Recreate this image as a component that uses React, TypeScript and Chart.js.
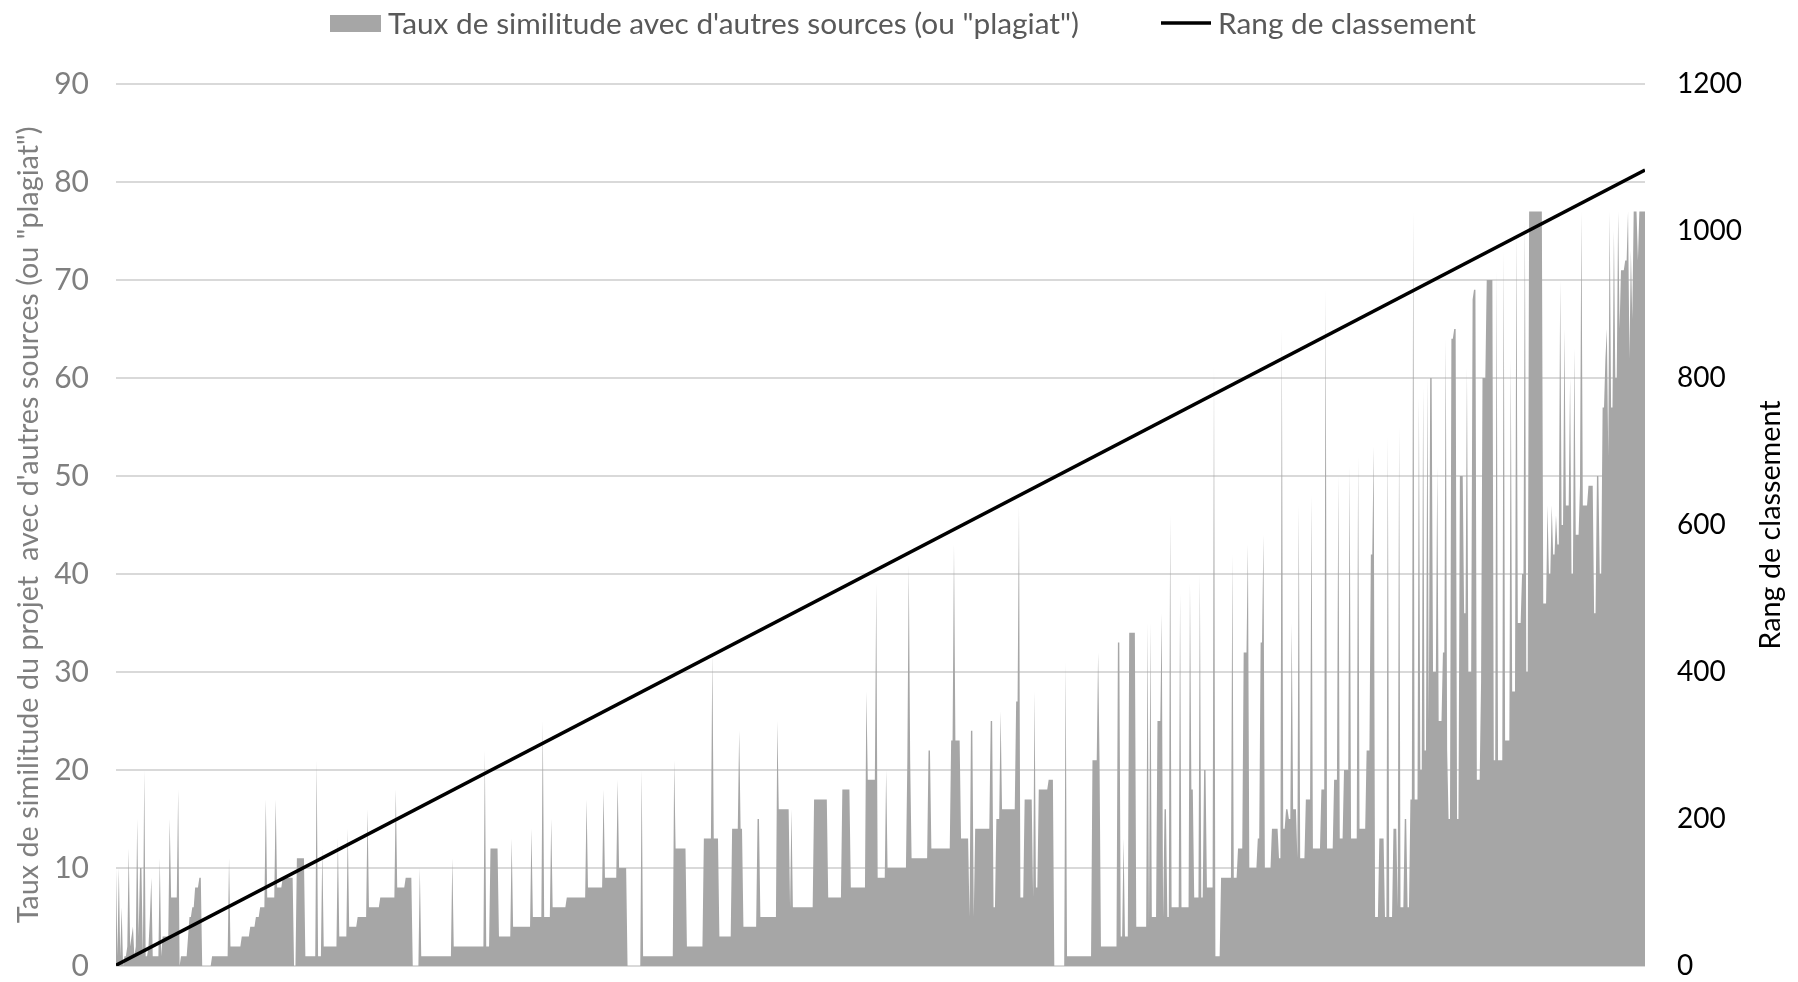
import { useEffect, useRef } from "react";
import { Chart, registerables } from "chart.js";

Chart.register(...registerables);

const SERIES_LABEL = `Taux de similitude avec d'autres sources (ou "plagiat")`;
const RANK_LABEL = "Rang de classement";
const LEFT_TITLE = `Taux de similitude du projet  avec d'autres sources (ou "plagiat")`;
const RIGHT_TITLE = "Rang de classement";
const LEFT_TICKS = [0, 10, 20, 30, 40, 50, 60, 70, 80, 90];
const RIGHT_TICKS = [0, 200, 400, 600, 800, 1000, 1200];

// Similarity rate, in rank order, as [value, number of consecutive ranks]
const RUNS_RANKS_1_362 = [
  [10, 1], [1, 1], [10, 1], [1, 1], [6, 1], [0, 1], [1, 2], [2, 1], [12, 1], [2, 1], [3, 1], [4, 1],
  [1, 1], [2, 1], [15, 1], [3, 1], [10, 2], [1, 1], [20, 1], [1, 2], [2, 1], [5, 1], [9, 1], [1, 5],
  [11, 1], [1, 1], [3, 5], [15, 1], [7, 5], [18, 1], [0, 1], [1, 5], [3, 1], [5, 2], [6, 2], [8, 3],
  [9, 2], [0, 7], [1, 12], [11, 1], [2, 8], [3, 6], [4, 4], [5, 3], [6, 4], [17, 1], [7, 6], [17, 1],
  [8, 4], [9, 8], [0, 2], [11, 6], [1, 8], [21, 1], [1, 3], [12, 1], [2, 10], [13, 1], [3, 6], [14, 1],
  [4, 6], [5, 7], [16, 1], [6, 8], [7, 11], [18, 1], [8, 6], [9, 5], [0, 5], [10, 1], [1, 22], [11, 1],
  [2, 22], [22, 1], [2, 3], [12, 6], [3, 9], [13, 1], [4, 13], [14, 1], [5, 7], [25, 1], [5, 5], [15, 1],
  [6, 10], [7, 14], [17, 1], [8, 11], [18, 1], [9, 9], [19, 1], [10, 6],
];
const RUNS_RANKS_363_591 = [
  [0, 10], [20, 1], [1, 22], [21, 1], [12, 8], [2, 12], [13, 6], [32, 1], [13, 4], [3, 9], [14, 5],
  [24, 1], [14, 2], [4, 10], [15, 2], [5, 12], [25, 1], [16, 8], [6, 1], [16, 1], [6, 15], [17, 10],
  [7, 10], [18, 6], [8, 11], [28, 1], [19, 6], [39, 1], [9, 6], [20, 1], [10, 14], [21, 1], [41, 1],
  [21, 1], [11, 12], [22, 2], [12, 14],
];
const RUNS_RANKS_592_711 = [
  [23, 2], [43, 1], [23, 4], [13, 6], [5, 1], [24, 2], [5, 1], [14, 11], [25, 2], [6, 2], [15, 3],
  [26, 1], [16, 10], [27, 2], [47, 1], [7, 3], [17, 6], [7, 1], [28, 1], [8, 2], [18, 7], [19, 4],
  [0, 8], [31, 1], [1, 18], [21, 4], [32, 1], [21, 1], [2, 12], [33, 2],
];
const RUNS_RANKS_712_830 = [
  [3, 2], [13, 1], [3, 3], [34, 5], [4, 8], [35, 1], [4, 1], [35, 1], [5, 4], [25, 3], [36, 1], [5, 1],
  [16, 2], [5, 2], [46, 1], [6, 6], [38, 1], [6, 6], [39, 1], [18, 2], [7, 4], [40, 1], [7, 2], [20, 2],
  [8, 5], [61, 1], [1, 4], [9, 8], [42, 1], [9, 3], [12, 4], [32, 3], [43, 1], [10, 6], [13, 2], [33, 2],
  [44, 1], [10, 5], [14, 5], [11, 2], [65, 1], [14, 2], [16, 2],
];
const RUNS_RANKS_831_930 = [
  [15, 2], [35, 1], [16, 3], [11, 1], [47, 1], [11, 4], [17, 4], [48, 1], [12, 6], [18, 3], [69, 1],
  [12, 5], [19, 3], [50, 1], [13, 3], [20, 4], [51, 1], [13, 5], [52, 1], [14, 5], [22, 3], [42, 2],
  [53, 1], [5, 3], [13, 4], [5, 2], [54, 1], [5, 3], [14, 3], [6, 1], [55, 1], [6, 3], [15, 2], [6, 2],
  [17, 2], [77, 1], [17, 3], [58, 1], [20, 2], [59, 1], [22, 2], [60, 1], [25, 1],
];
const RUNS_RANKS_931_1022 = [
  [60, 2], [30, 3], [51, 1], [25, 3], [32, 2], [64, 1], [22, 1], [15, 2], [64, 2], [65, 2], [15, 2],
  [50, 3], [36, 2], [61, 1], [30, 3], [68, 1], [69, 2], [19, 3], [29, 1], [60, 3], [70, 5], [21, 2],
  [71, 1], [21, 4], [73, 1], [23, 4], [62, 1], [28, 3], [75, 1], [35, 3], [40, 2], [76, 1], [30, 2],
  [77, 10], [37, 3], [47, 1], [40, 2], [47, 1], [42, 2], [46, 1], [43, 2],
];
const RUNS_RANKS_1023_1083 = [
  [70, 1], [45, 2], [65, 1], [47, 3], [60, 1], [40, 2], [63, 1], [44, 3], [49, 1], [77, 1], [47, 4],
  [49, 4], [36, 2], [50, 2], [40, 2], [57, 2], [62, 1], [65, 1], [52, 1], [77, 1], [57, 2], [75, 1],
  [60, 2], [77, 1], [65, 1], [71, 3], [72, 2], [77, 1], [62, 1], [73, 1], [66, 1], [77, 3], [72, 1],
  [77, 5],
];

// Rank line: first and last project (rank on x, rank on y)
const RANK_LINE_X = [1, 1083];
const RANK_LINE_Y = [1, 1083];

const ALL_RUNS = [
  ...RUNS_RANKS_1_362,
  ...RUNS_RANKS_363_591,
  ...RUNS_RANKS_592_711,
  ...RUNS_RANKS_712_830,
  ...RUNS_RANKS_831_930,
  ...RUNS_RANKS_931_1022,
  ...RUNS_RANKS_1023_1083,
];

function buildAreaPoints() {
  const pts: { x: number; y: number }[] = [];
  let rank = 1;
  for (const [v, n] of ALL_RUNS) {
    for (let k = 0; k < n; k++) {
      pts.push({ x: rank, y: v });
      rank++;
    }
  }
  return pts;
}

const FONT = "Lato, 'Open Sans', sans-serif";
const LEGEND_SIZE = 29.8;
const TITLE_SIZE = 28.8;

const overlayPlugin = {
  id: "overlayTexts",
  afterDraw(chart: any) {
    const ctx = chart.ctx;
    ctx.save();
    // legend
    ctx.fillStyle = "#a6a6a6";
    ctx.fillRect(330, 15, 51, 17);
    ctx.font = `${LEGEND_SIZE}px ${FONT}`;
    ctx.textBaseline = "middle";
    ctx.textAlign = "left";
    ctx.fillStyle = "#595959";
    ctx.fillText(SERIES_LABEL, 388, 24);
    ctx.strokeStyle = "#000000";
    ctx.lineWidth = 3.5;
    ctx.beginPath();
    ctx.moveTo(1161, 23);
    ctx.lineTo(1211, 23);
    ctx.stroke();
    ctx.fillText(RANK_LABEL, 1218, 24);
    // right axis title (reads bottom to top)
    ctx.translate(1771, 525);
    ctx.rotate(-Math.PI / 2);
    ctx.textAlign = "center";
    ctx.fillStyle = "#000000";
    ctx.font = `${TITLE_SIZE}px ${FONT}`;
    ctx.fillText(RIGHT_TITLE, 0, 0);
    ctx.restore();
  },
};

export default function App() {
  const ref = useRef<HTMLCanvasElement | null>(null);

  useEffect(() => {
    if (!ref.current) return;
    const chart = new Chart(ref.current, {
      type: "line",
      data: {
        datasets: [
          {
            label: RANK_LABEL,
            data: RANK_LINE_X.map((x, i) => ({ x, y: RANK_LINE_Y[i] })),
            yAxisID: "y1",
            borderColor: "#000000",
            borderWidth: 3.5,
            pointRadius: 0,
            fill: false,
            order: 0,
          },
          {
            label: SERIES_LABEL,
            data: buildAreaPoints(),
            yAxisID: "y",
            borderWidth: 0,
            borderColor: "rgba(0,0,0,0)",
            backgroundColor: "#a6a6a6",
            pointRadius: 0,
            fill: "origin",
            tension: 0,
            order: 1,
          },
        ],
      },
      options: {
        animation: false,
        responsive: false,
        events: [],
        layout: { padding: { top: 84, bottom: 16, left: 0, right: 0 } },
        plugins: {
          legend: { display: false },
          tooltip: { enabled: false },
        },
        scales: {
          x: {
            type: "linear",
            display: false,
            min: RANK_LINE_X[0],
            max: RANK_LINE_X[1],
          },
          y: {
            position: "left",
            min: 0,
            max: 90,
            afterFit: (s: any) => {
              s.width = 116;
              s.paddingTop = 0;
              s.paddingBottom = 0;
            },
            afterBuildTicks: (s: any) => {
              s.ticks = LEFT_TICKS.map((v) => ({ value: v }));
            },
            ticks: {
              color: "#7f7f7f",
              padding: 27,
              callback: (v: any) => String(v),
              font: { family: FONT, size: 30, lineHeight: 1 },
            },
            grid: { color: "#d9d9d9", lineWidth: 2, drawTicks: false },
            border: { display: false },
            title: {
              display: true,
              text: LEFT_TITLE,
              color: "#7f7f7f",
              font: { family: FONT, size: TITLE_SIZE, lineHeight: 1.2 },
              padding: { top: 11, bottom: 0 },
            },
          },
          y1: {
            position: "right",
            min: 0,
            max: 1200,
            afterFit: (s: any) => {
              s.width = 153;
              s.paddingTop = 0;
              s.paddingBottom = 0;
            },
            afterBuildTicks: (s: any) => {
              s.ticks = RIGHT_TICKS.map((v) => ({ value: v }));
            },
            ticks: {
              color: "#000000",
              padding: 32,
              callback: (v: any) => String(v),
              font: { family: FONT, size: 28, lineHeight: 1 },
            },
            grid: { drawOnChartArea: false, drawTicks: false },
            border: { display: false },
          },
        },
      },
      plugins: [overlayPlugin],
    } as any);
    return () => chart.destroy();
  }, []);

  return (
    <div style={{ position: "fixed", left: 0, top: 0, width: 1798, height: 982, background: "#ffffff" }}>
      <canvas ref={ref} width={1798} height={982} style={{ display: "block" }} />
    </div>
  );
}
